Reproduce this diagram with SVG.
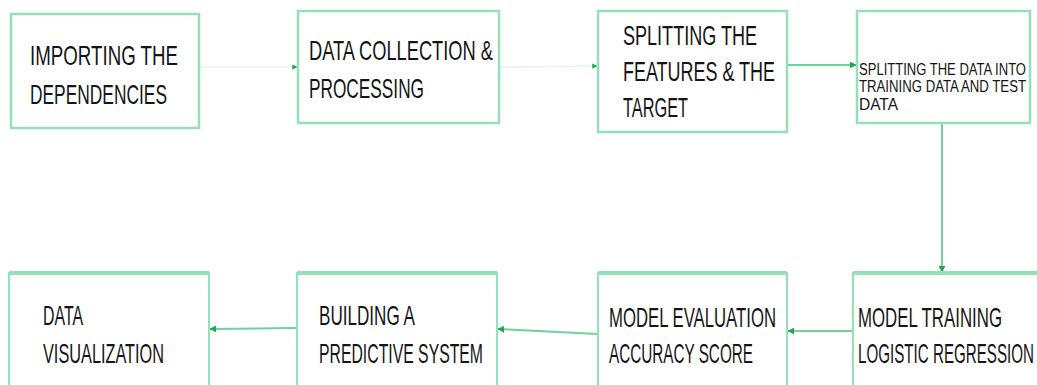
<svg xmlns="http://www.w3.org/2000/svg" width="1037" height="385" viewBox="0 0 1037 385">
<style>
.box{fill:#fff;stroke:#95dfb9;stroke-width:2.5}
.t{font-family:"Liberation Sans",Arial,sans-serif;font-size:28px;fill:#151515}
.s{font-family:"Liberation Sans",Arial,sans-serif;font-size:16px;fill:#151515}
.c{fill:none;stroke:#6fd19c;stroke-width:2}
.f{fill:none;stroke:#e3f6ec;stroke-width:1.5}
</style>
<defs>
<marker id="ah" viewBox="0 0 10 10" refX="9" refY="5" markerWidth="3.5" markerHeight="3.5" orient="auto">
<path d="M0,0 L10,5 L0,10 z" fill="#1fa653"/>
</marker>
</defs>
<rect width="1037" height="385" fill="#fff"/>
<g id="connectors">
<line class="f" x1="199" y1="67" x2="297" y2="67" marker-end="url(#ah)"/>
<line class="f" x1="499" y1="67" x2="597" y2="66" marker-end="url(#ah)"/>
<line class="c" x1="787" y1="65" x2="856" y2="65" marker-end="url(#ah)"/>
<line class="c" x1="942" y1="123" x2="942" y2="272" marker-end="url(#ah)"/>
<line class="c" x1="853" y1="331" x2="788" y2="331" marker-end="url(#ah)"/>
<line class="c" x1="598" y1="334" x2="498" y2="329" marker-end="url(#ah)"/>
<line class="c" x1="297" y1="328" x2="210" y2="329" marker-end="url(#ah)"/>
</g>
<g id="n1">
<rect class="box" x="11" y="14" width="188" height="114"/>
<text class="t" x="30" y="65" textLength="148" lengthAdjust="spacingAndGlyphs">IMPORTING THE</text>
<text class="t" x="30" y="104" textLength="137" lengthAdjust="spacingAndGlyphs">DEPENDENCIES</text>
</g>
<g id="n2">
<rect class="box" x="298" y="11" width="201" height="112"/>
<text class="t" x="309" y="60" textLength="184" lengthAdjust="spacingAndGlyphs">DATA COLLECTION &amp;</text>
<text class="t" x="309" y="98" textLength="115" lengthAdjust="spacingAndGlyphs">PROCESSING</text>
</g>
<g id="n3">
<rect class="box" x="598" y="11" width="189" height="121"/>
<text class="t" x="623" y="45" textLength="134" lengthAdjust="spacingAndGlyphs">SPLITTING THE</text>
<text class="t" x="623" y="81" textLength="152" lengthAdjust="spacingAndGlyphs">FEATURES &amp; THE</text>
<text class="t" x="623" y="117" textLength="65" lengthAdjust="spacingAndGlyphs">TARGET</text>
</g>
<g id="n4">
<rect class="box" x="857" y="11" width="173" height="112"/>
<text class="s" x="859" y="75" textLength="167" lengthAdjust="spacingAndGlyphs">SPLITTING THE DATA INTO</text>
<text class="s" x="859" y="92" textLength="167" lengthAdjust="spacingAndGlyphs">TRAINING DATA AND TEST</text>
<text class="s" x="859" y="110" textLength="39" lengthAdjust="spacingAndGlyphs">DATA</text>
</g>
<g id="n5">
<rect class="box" x="9" y="273" width="200" height="130" style="stroke-width:2"/>
<line x1="9" y1="273" x2="209" y2="273" stroke="#95dfb9" stroke-width="4"/>
<text class="t" x="43" y="325" textLength="40" lengthAdjust="spacingAndGlyphs">DATA</text>
<text class="t" x="43" y="363" textLength="121" lengthAdjust="spacingAndGlyphs">VISUALIZATION</text>
</g>
<g id="n6">
<rect class="box" x="297" y="273" width="200" height="130" style="stroke-width:2"/>
<line x1="297" y1="273" x2="497" y2="273" stroke="#95dfb9" stroke-width="4"/>
<text class="t" x="319" y="325" textLength="96" lengthAdjust="spacingAndGlyphs">BUILDING A</text>
<text class="t" x="319" y="363" textLength="164" lengthAdjust="spacingAndGlyphs">PREDICTIVE SYSTEM</text>
</g>
<g id="n7">
<rect class="box" x="598" y="273" width="189" height="130" style="stroke-width:2"/>
<line x1="598" y1="273" x2="787" y2="273" stroke="#95dfb9" stroke-width="4"/>
<text class="t" x="609" y="327" textLength="167" lengthAdjust="spacingAndGlyphs">MODEL EVALUATION</text>
<text class="t" x="609" y="363" textLength="144" lengthAdjust="spacingAndGlyphs">ACCURACY SCORE</text>
</g>
<g id="n8">
<path d="M1037,273 H853 V390" fill="#fff" stroke="#95dfb9" stroke-width="2"/>
<line x1="853" y1="273" x2="1037" y2="273" stroke="#95dfb9" stroke-width="4"/>
<text class="t" x="858" y="327" textLength="144" lengthAdjust="spacingAndGlyphs">MODEL TRAINING</text>
<text class="t" x="858" y="363" textLength="176" lengthAdjust="spacingAndGlyphs">LOGISTIC REGRESSION</text>
</g>
</svg>
